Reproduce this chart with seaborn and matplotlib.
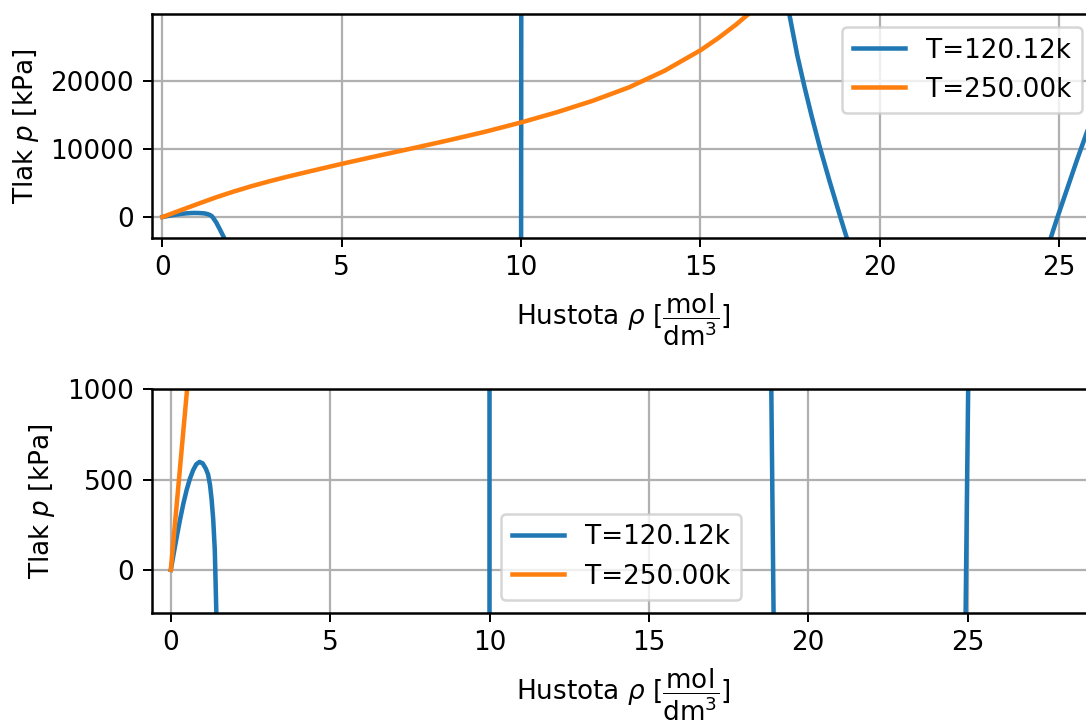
import matplotlib
matplotlib.use("Agg")
import matplotlib.pyplot as plt
import seaborn as sns
import pandas as pd

# ---- data ----
labels = ["T=120.12k", "T=250.00k"]

rho_blue = [0.0, 0.1, 0.2, 0.3, 0.4, 0.5, 0.6, 0.7, 0.8, 0.9, 1.0, 1.1, 1.17,
            1.23, 1.28, 1.33, 1.38, 1.43, 1.5, 1.6, 1.7, 1.85, 2.0, 2.5, 4.0,
            7.0, 9.0, 9.98,
            10.02, 12.0, 15.0, 17.0, 17.49, 17.7, 17.9, 18.1, 18.33, 18.6, 18.9,
            18.93, 19.07, 19.3, 19.6, 20.5, 22.0, 23.5, 24.5, 24.77, 24.94, 25.02,
            25.5, 25.9, 26.5, 27.5, 29.5]
p_blue = [0, 100, 196, 288, 372, 445, 505, 552, 585, 598, 590, 560, 528,
          470, 390, 280, 110, -250, -800, -1800, -2850, -4500, -6300, -12000, -20000,
          -35000, -60000, -150000,
          150000, 90000, 58000, 44000, 29400, 23700, 19100, 14800, 10200, 5250, 0,
          -520, -2900, -6700, -11300, -22000, -32000, -24000, -7400, -3000, -237, 1000,
          8400, 14300, 24000, 42000, 80000]

rho_orange = [0.0, 0.5, 1.0, 1.5, 2.0, 2.5, 3.0, 3.5, 4.0, 5.0, 6.0, 7.0, 8.0,
              9.0, 10.0, 11.0, 12.0, 13.0, 14.0, 15.0, 15.5, 16.0, 16.5, 17.0]
p_orange = [0, 980, 1950, 2900, 3760, 4550, 5270, 5935, 6565, 7800, 8970, 10110,
            11280, 12510, 13870, 15370, 17050, 19000, 21450, 24450, 26250, 28250,
            30500, 33200]

xlabel = r"Hustota $\rho$ [$\dfrac{\mathrm{mol}}{\mathrm{dm}^3}$]"
ylabel = r"Tlak $p$ [kPa]"

df_blue = pd.DataFrame({"rho": rho_blue, "p": p_blue})
df_orange = pd.DataFrame({"rho": rho_orange, "p": p_orange})

plt.rcParams["font.size"] = 10.5
plt.rcParams["axes.linewidth"] = 1.0
plt.rcParams["grid.linewidth"] = 0.9

W, H, DPI = 1086, 720, 180
fig = plt.figure(figsize=(W / DPI, H / DPI), dpi=DPI)

ax1 = fig.add_axes([151.7 / W, 1 - 237.7 / H, (1095 - 151.7) / W, (237.7 - 14) / H])
ax2 = fig.add_axes([151.7 / W, 1 - 612.7 / H, (1095 - 151.7) / W, (612.7 - 389.3) / H])

blue, orange = "#1f77b4", "#ff7f0e"

for ax in (ax1, ax2):
    sns.lineplot(data=df_blue, x="rho", y="p", ax=ax, color=blue, label=labels[0],
                 sort=False, estimator=None, linewidth=1.8)
    sns.lineplot(data=df_orange, x="rho", y="p", ax=ax, color=orange, label=labels[1],
                 sort=False, estimator=None, linewidth=1.8)
    ax.grid(True)
    ax.set_xlabel(xlabel)
    ax.set_ylabel(ylabel)
    ax.set_xticks([0, 5, 10, 15, 20, 25])

ax1.set_xlim(-0.3, 26.0)
ax1.set_ylim(-3030, 29770)
ax1.set_yticks([0, 10000, 20000])

ax2.set_xlim(-0.6, 29.0)
ax2.set_ylim(-237, 1000)
ax2.set_yticks([0, 500, 1000])

ax1.legend(loc="upper right", bbox_to_anchor=(1082 / W, 1 - 27 / H),
           bbox_transform=fig.transFigure, borderaxespad=0)
ax2.legend(loc="lower left", bbox_to_anchor=(501 / W, 1 - 600 / H),
           bbox_transform=fig.transFigure, borderaxespad=0)

fig.savefig("out.png", dpi=DPI)
